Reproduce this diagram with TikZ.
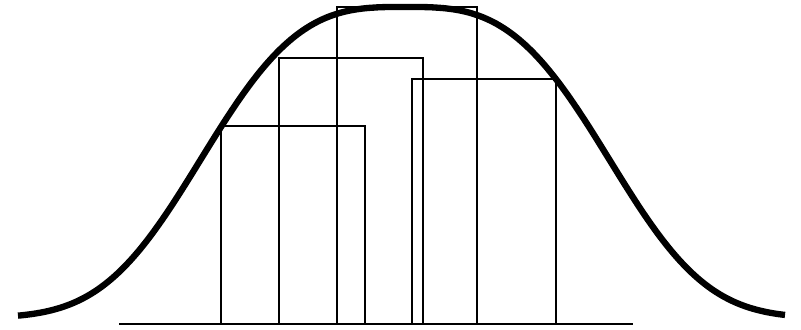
\documentclass[tikz,border=0pt]{standalone}
\usetikzlibrary{calc}
\tikzset{
  bellcurve/.style={line width=3.6pt, draw=black},
  barbox/.style={line width=1.4pt, draw=black},
  axisline/.style={line width=1.7pt, draw=black},
}
\begin{document}
\begin{tikzpicture}[x=0.02cm, y=-0.02cm]

\useasboundingbox (0,0) rectangle (801,330);

%% BARS (overlapping, all standing on the axis)
\draw[barbox] (221,324) rectangle (365,126);
\draw[barbox] (279,324) rectangle (423,58);
\draw[barbox] (337,324) rectangle (477,7);
\draw[barbox] (412,324) rectangle (556,79);

%% AXIS
\coordinate (axis_l) at (119,324);
\coordinate (axis_r) at (633,324);
\draw[axisline] (axis_l) -- (axis_r);

%% BELL CURVE (flat-topped bell, peak at x = 405)
\draw[bellcurve] plot[domain=18:785, samples=240, smooth]
  (\x, {318 - 311*exp(-((abs(\x-405)+0.01)/232)^3.1)});

\end{tikzpicture}
\end{document}
